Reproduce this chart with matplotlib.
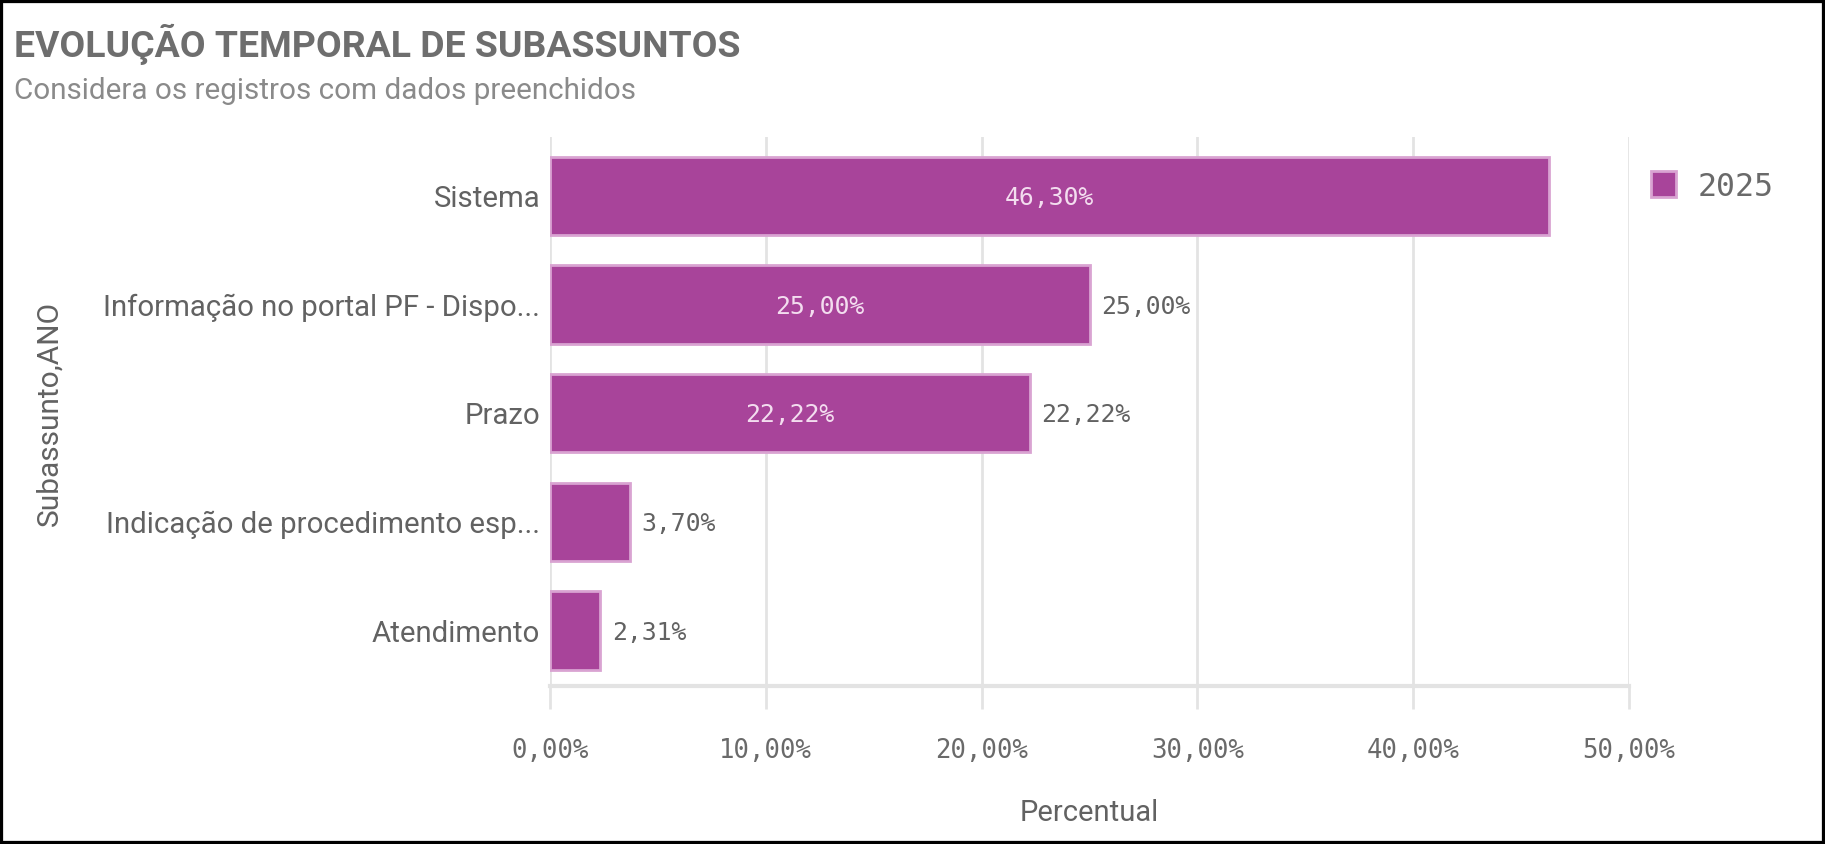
import matplotlib
matplotlib.use("Agg")
import matplotlib.pyplot as plt
from matplotlib.patches import Rectangle
from matplotlib import font_manager

# =============================================================================
# DATA
# =============================================================================
categories = ["Sistema",
              "Informação no portal PF - Dispo...",
              "Prazo",
              "Indicação de procedimento esp...",
              "Atendimento"]
values = [46.30, 25.00, 22.22, 3.70, 2.31]
series_name = "2025"
x_ticks = [0, 10, 20, 30, 40, 50]

title = "EVOLUÇÃO TEMPORAL DE SUBASSUNTOS"
subtitle = "Considera os registros com dados preenchidos"
x_label = "Percentual"
y_label = "Subassunto,ANO"

# =============================================================================
# STYLE
# =============================================================================
installed = {f.name for f in font_manager.fontManager.ttflist}
narrow = [f for f in ["Liberation Sans Narrow", "Roboto", "DejaVu Sans"] if f in installed]
mono = ["DejaVu Sans Mono"]

bar_color = "#A8449A"
bar_edge = "#D9A3D2"
grid_color = "#E3E3E3"
text_gray = "#626262"


def pct(v):
    return ("%.2f%%" % v).replace(".", ",")


# =============================================================================
# FIGURE
# =============================================================================
W, H = 1825, 844
fig = plt.figure(figsize=(W / 100, H / 100), dpi=100)
fig.patch.set_facecolor("white")

ax = fig.add_axes([550 / W, 1 - 686 / H, 1079 / W, 549 / H])

pos = list(range(len(categories)))
ax.barh(pos, values, height=0.72, color=bar_color, edgecolor=bar_edge,
        linewidth=2, zorder=3)

ax.set_xlim(0, 50)
ax.set_ylim(len(categories) - 0.49, -0.54)

# labels on the bars: inside when wide enough, outside when there is room
for y, v in zip(pos, values):
    if v >= 10:
        ax.text(v / 2, y + 0.02, pct(v), ha="center", va="center",
                fontsize=17.8, family=mono, color="#F3DDEF", zorder=4)
    if v + 9 <= 50:
        ax.text(v + 0.55, y + 0.02, pct(v), ha="left", va="center",
                fontsize=17.8, family=mono, color=text_gray, zorder=4)

# axes and grid
ax.set_xticks(x_ticks)
ax.set_xticklabels([pct(t) for t in x_ticks], family=mono, fontsize=18.5,
                   color="#6A6A6A")
ax.set_yticks(pos)
ax.set_yticklabels(categories, family=narrow, fontsize=21.2, color=text_gray)
ax.tick_params(axis="x", length=16.5, width=2, color=grid_color, pad=21)
ax.tick_params(axis="y", length=0, pad=7)
ax.grid(axis="x", color=grid_color, linewidth=2, zorder=0)
for s in ["top", "right", "left"]:
    ax.spines[s].set_visible(False)
ax.spines["bottom"].set_color(grid_color)
ax.spines["bottom"].set_linewidth(3)

ax.set_xlabel(x_label, family=narrow, fontsize=21, color=text_gray, labelpad=25)
fig.text(49 / W, 1 - 413 / H, y_label, rotation=90, ha="center", va="center",
         family=narrow, fontsize=21.5, color=text_gray)

# titles
fig.text(14 / W, 1 - 44 / H, title, ha="left", va="center", family=narrow,
         fontsize=26.9, fontweight="bold", color="#6E6E6E")
fig.text(14 / W, 1 - 91 / H, subtitle, ha="left", va="center", family=narrow,
         fontsize=21.3, color="#8A8A8A")

# legend
fig.patches.append(Rectangle((1651 / W, 1 - 197 / H), 25 / W, 26 / H,
                             transform=fig.transFigure, facecolor=bar_color,
                             edgecolor=bar_edge, linewidth=2))
fig.text(1698 / W, 1 - 188 / H, series_name, ha="left", va="center",
         family=mono, fontsize=22.8, color="#6A6A6A")

# frame round the whole panel
fig.patches.append(Rectangle((0, 0), 1, 1, transform=fig.transFigure,
                             fill=False, edgecolor="black", linewidth=4.5))

fig.savefig("out.png", dpi=100, facecolor="white")
plt.close(fig)
